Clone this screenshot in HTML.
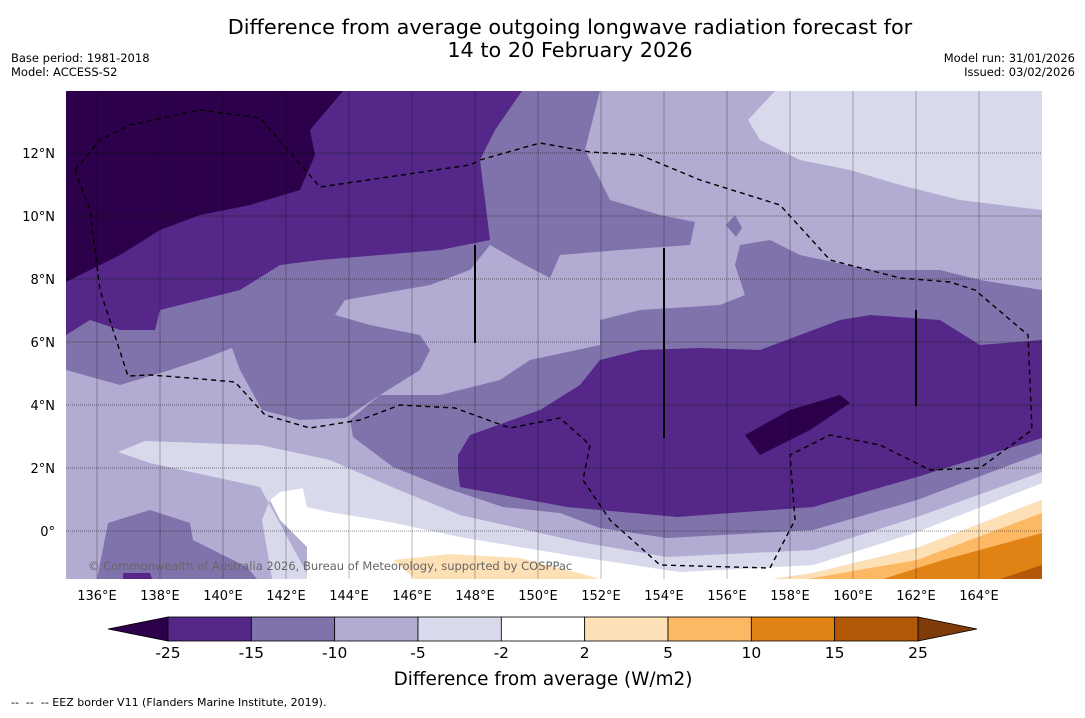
<!DOCTYPE html>
<html><head><meta charset="utf-8">
<style>
html,body{margin:0;padding:0;background:#fff;}
svg text{font-family:"DejaVu Sans","Liberation Sans",sans-serif;}
</style></head>
<body>
<svg id="chart" width="1085" height="713" viewBox="0 0 1085 713" xmlns="http://www.w3.org/2000/svg">
<text x="570" y="34" font-size="20.8" text-anchor="middle">Difference from average outgoing longwave radiation forecast for</text>
<text x="570" y="57" font-size="20.8" text-anchor="middle">14 to 20 February 2026</text>
<text x="11" y="62" font-size="11.5">Base period: 1981-2018</text>
<text x="11" y="76" font-size="11.5">Model: ACCESS-S2</text>
<text x="1075" y="62" font-size="11.5" text-anchor="end">Model run: 31/01/2026</text>
<text x="1075" y="76" font-size="11.5" text-anchor="end">Issued: 03/02/2026</text>
<defs><clipPath id="mapclip"><rect x="66" y="91" width="976" height="488"/></clipPath></defs>
<g id="map" clip-path="url(#mapclip)"></g>
<g id="axes"></g>
<g id="cbar"></g>
<text x="543" y="685" font-size="18.4" text-anchor="middle">Difference from average (W/m2)</text>
<text x="11" y="706" font-size="11" xml:space="preserve">--  --  -- EEZ border V11 (Flanders Marine Institute, 2019).</text>
</svg>
<script>
const levels = [-25,-15,-10,-5,-2,2,5,10,15,25];
const levelColors = ["#542788","#8073ac","#b2abd2","#d8daeb","#ffffff","#fee0b6","#fdb863","#e08214","#b35806"];
const underColor = "#2d004b";
const overColor = "#7f3b08";
const lonTicks = [136,138,140,142,144,146,148,150,152,154,156,158,160,162,164];
const latTicks = [0,2,4,6,8,10,12];

const NS="http://www.w3.org/2000/svg";
function xLon(lon){return 97+(lon-136)*31.5;}
function yLat(lat){return 531-lat*31.5;}
function mk(tag,attrs,parent){const e=document.createElementNS(NS,tag);for(const k in attrs)e.setAttribute(k,attrs[k]);parent.appendChild(e);return e;}

const map=document.getElementById('map');
const regions=[
 ["#b2abd2","66,91 1042,91 1042,579 66,579"],
 ["#8073ac","66,91 600,91 585,150 610,200 660,215 695,222 690,245 620,250 560,255 550,278 525,265 490,245 470,270 430,285 345,300 335,315 370,325 420,335 430,350 420,370 380,395 345,418 300,420 262,410 240,370 232,348 200,360 170,370 120,385 66,370"],
 ["#8073ac","1042,290 980,280 940,270 870,270 800,255 770,240 740,245 735,265 745,295 720,305 640,310 600,320 600,345 530,360 500,380 440,395 380,395 350,420 353,437 393,467 443,487 503,507 560,513 600,528 667,538 813,530 917,500 1042,453"],
 ["#8073ac","726,225 735,215 742,228 736,237"],
 ["#8073ac","97,579 108,523 150,510 190,523 193,540 247,567 257,579"],
 ["#542788","123,573 150,573 152,579 123,579"],
 ["#542788","66,91 522,91 495,130 480,160 490,240 440,250 380,255 320,260 280,265 240,290 200,300 160,310 155,330 120,330 90,320 66,335"],
 ["#2d004b","66,91 343,91 310,130 315,155 300,190 250,205 200,215 160,230 120,255 80,275 66,282"],
 ["#542788","458,455 470,435 540,410 580,385 600,360 640,350 700,348 760,350 800,335 840,320 870,315 940,320 980,345 1042,340 1042,438 917,477 813,507 677,517 600,510 567,507 460,487 458,470"],
 ["#2d004b","745,435 790,410 840,395 850,403 810,430 760,455"],
 ["#d8daeb","775,91 1042,91 1042,210 960,200 900,185 850,170 800,160 760,140 748,120"],
 ["#d8daeb","118,452 145,441 260,445 330,460 387,485 460,515 580,542 667,557 813,550 917,517 1042,472 1042,483 917,532 813,565 680,572 580,557 460,537 390,522 330,512 307,507 303,488 280,492 270,500 262,520 272,579 310,579 260,487 150,463"],
 ["#ffffff","270,500 280,492 303,488 307,507 330,512 390,522 460,537 580,557 680,572 813,565 917,532 1042,483 1042,500 917,548 813,573 773,579 307,579 307,547 280,520"],
 ["#fee0b6","393,560 450,554 520,558 575,572 600,579 415,579"],
 ["#fee0b6","773,579 813,573 917,548 1042,500 1042,579"],
 ["#fdb863","807,579 917,560 1042,513 1042,579"],
 ["#e08214","883,579 943,560 1042,533 1042,579"],
 ["#b35806","1000,579 1042,565 1042,579"]
];
regions.forEach(r=>{
  const p=mk('polygon',{points:r[1],fill:r[0]},map);
  
  
});
lonTicks.forEach(l=>{
  const ln=mk('line',{x1:xLon(l),x2:xLon(l),y1:91,y2:579,stroke:'rgba(0,0,0,0.28)','stroke-width':1},map);
  
  
});
latTicks.forEach(l=>{
  const ln=mk('line',{x1:66,x2:1042,y1:yLat(l),y2:yLat(l),stroke:'rgba(0,0,0,0.45)','stroke-width':1,'stroke-dasharray':'1,1'},map);
  
  
});
const eez=mk('polyline',{points:"75,170 100,140 130,125 200,110 260,118 320,187 470,165 480,160 540,143 590,152 640,155 700,180 780,205 830,260 900,278 950,282 975,290 1028,335 1032,430 980,468 930,470 880,445 830,435 790,455 795,520 770,568 660,565 610,520 583,480 590,445 560,418 510,428 455,408 400,405 360,420 310,428 265,415 235,382 190,378 150,375 128,376 100,290 90,210 75,170",fill:'none',stroke:'#000','stroke-width':1.4,'stroke-dasharray':'5,4'},map);


[[475,245,343],[664,248,438],[916,310,406]].forEach(v=>{
  const ln=mk('line',{x1:v[0],x2:v[0],y1:v[1],y2:v[2],stroke:'#000','stroke-width':2},map);
  
  
});
const cp=mk('text',{x:88,y:570,'font-size':11.5,fill:'#666'},map);
cp.textContent='© Commonwealth of Australia 2026, Bureau of Meteorology, supported by COSPPac';



const axes=document.getElementById('axes');
lonTicks.forEach(l=>{
  const t=mk('text',{x:xLon(l),y:600,'font-size':13,'text-anchor':'middle'},axes);
  t.textContent=l+'°E';
  
  
});
latTicks.forEach(l=>{
  const t=mk('text',{x:55,y:yLat(l)+5,'font-size':13,'text-anchor':'end'},axes);
  t.textContent=l===0?'0°':l+'°N';
  
  
});

const cb=document.getElementById('cbar');
const cx0=168,cx1=918,cy0=617,cy1=641;
const bw=(cx1-cx0)/levelColors.length;
const tri1=mk('polygon',{points:`108,629 ${cx0},${cy0} ${cx0},${cy1}`,fill:underColor,stroke:'#000','stroke-width':0.8},cb);


const tri2=mk('polygon',{points:`977,629 ${cx1},${cy0} ${cx1},${cy1}`,fill:overColor,stroke:'#000','stroke-width':0.8},cb);


levelColors.forEach((c,i)=>{
  const r=mk('rect',{x:cx0+i*bw,y:cy0,width:bw,height:cy1-cy0,fill:c,stroke:'#000','stroke-width':0.8},cb);
  
  
});
levels.forEach((v,i)=>{
  const t=mk('text',{x:cx0+i*bw,y:658,'font-size':15.5,'text-anchor':'middle'},cb);
  t.textContent=String(v);
  
  
});
</script>
</body></html>
